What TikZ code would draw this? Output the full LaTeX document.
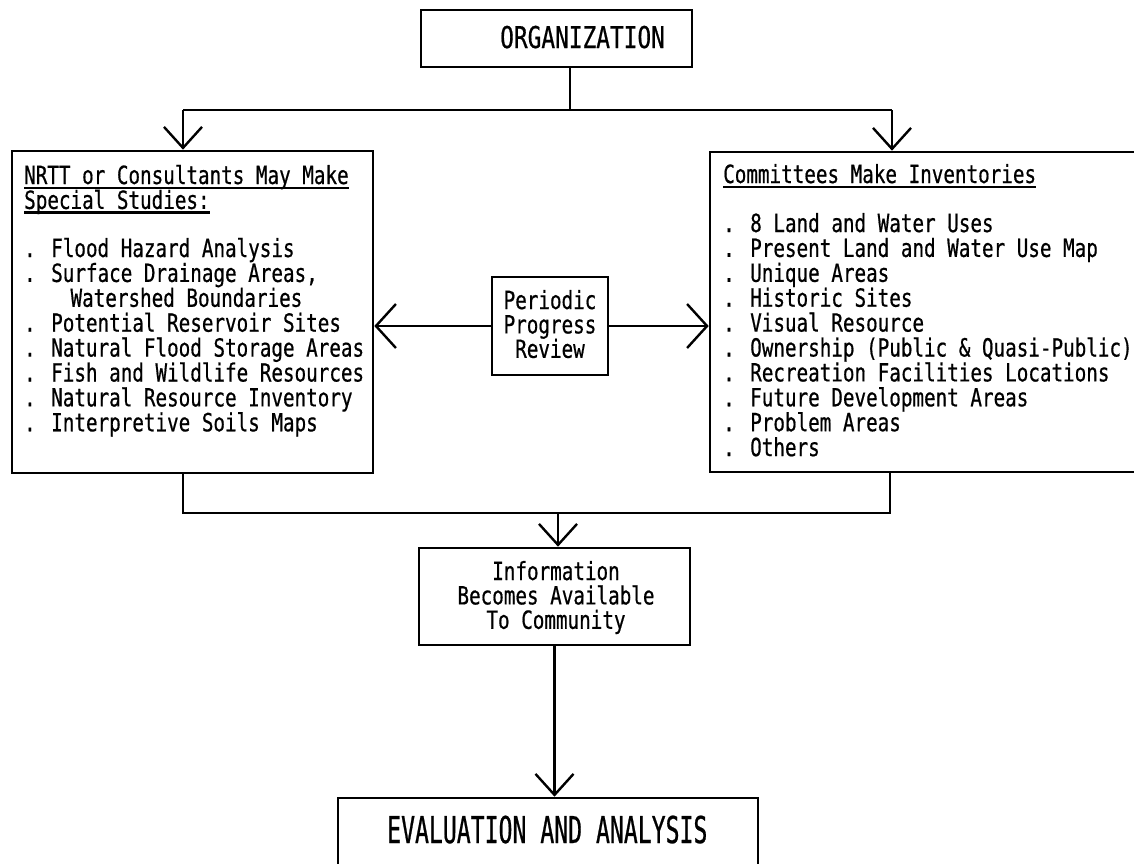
\documentclass[tikz,border=0pt]{standalone}
\usepackage{fontspec}
\usetikzlibrary{arrows.meta}

% condensed typewriter faces
\newfontfamily\typew[FakeStretch=0.77,FakeBold=0.6]{DejaVu Sans Mono}
\newfontfamily\typeorg[FakeStretch=0.76,FakeBold=0.6]{DejaVu Sans Mono}
\newfontfamily\typeeval[FakeStretch=0.625,FakeBold=0.6]{DejaVu Sans Mono}

% underline that runs just below the baseline
\newcommand\ulinetext[1]{\setbox0=\hbox{#1}\rlap{\vrule height -2.5pt depth 4.6pt width \wd0}\box0}
% stacked lines whose reference point is the first baseline
\newcommand\leftstack[1]{\vtop{\baselineskip=24.9pt\lineskiplimit=-20pt\halign{##\hfil\cr#1\crcr}}}
\newcommand\centerstack[1]{\vtop{\baselineskip=24.4pt\lineskiplimit=-20pt\halign{\hfil##\hfil\cr#1\crcr}}}

\tikzset{
  box/.style={draw, line width=2.6pt, inner sep=0pt, rectangle},
  txt/.style={inner sep=0pt, font=\typew\fontsize{25}{25}\selectfont},
  conn/.style={line width=2.2pt},
  arr/.style={line width=2.2pt, -{Straight Barb[length=21pt, width=38pt, line width=2.4pt]}},
  harr/.style={line width=2.2pt, -{Straight Barb[length=20pt, width=44pt, line width=2.4pt]}},
}

\begin{document}
\begin{tikzpicture}[x=1pt, y=-1pt]
\useasboundingbox (0,0) rectangle (1134,863);
\clip (0,0) rectangle (1134,863);
\fill[white] (0,0) rectangle (1134,863);

% boxes
\node[box, minimum width=271pt, minimum height=57pt] (org) at (556.5,38.5) {};
\node[box, minimum width=361pt, minimum height=322pt] (lbox) at (192.5,312) {};
\node[box, minimum width=440pt, minimum height=320pt] (rbox) at (930,312) {};
\node[box, minimum width=116pt, minimum height=98pt] (prb) at (550,326) {};
\node[box, minimum width=271pt, minimum height=97pt] (info) at (554.5,596.5) {};
\node[box, minimum width=420pt, minimum height=102pt] (eval) at (548,849) {};

% texts
\node[inner sep=0pt, anchor=base west, font=\typeorg\fontsize{30}{30}\selectfont] (orgtxt) at (500,48) {ORGANIZATION};

\node[txt, anchor=base west] (ltitle) at (24,184) {\leftstack{%
\ulinetext{NRTT or Consultants May Make}\cr
\ulinetext{Special Studies:}}};

\node[txt, anchor=base west] (llist) at (24,257) {\leftstack{%
. Flood Hazard Analysis\cr
. Surface Drainage Areas,\cr
\phantom{....}Watershed Boundaries\cr
. Potential Reservoir Sites\cr
. Natural Flood Storage Areas\cr
. Fish and Wildlife Resources\cr
. Natural Resource Inventory\cr
. Interpretive Soils Maps}};

\node[txt, anchor=base west] (rtitle) at (723,183) {\ulinetext{Committees Make Inventories}};

\node[txt, anchor=base west] (rlist) at (723,232) {\leftstack{%
. 8 Land and Water Uses\cr
. Present Land and Water Use Map\cr
. Unique Areas\cr
. Historic Sites\cr
. Visual Resource\cr
. Ownership (Public \& Quasi-Public)\cr
. Recreation Facilities Locations\cr
. Future Development Areas\cr
. Problem Areas\cr
. Others}};

\node[txt, anchor=base] (prtxt) at (550,309) {\centerstack{Periodic\cr Progress\cr Review}};

\node[txt, anchor=base] (infotxt) at (556,580) {\centerstack{Information\cr Becomes Available\cr To Community}};

\node[inner sep=0pt, anchor=base west, font=\typeeval\fontsize{37}{37}\selectfont] (evaltxt) at (387,843) {EVALUATION AND ANALYSIS};

% connectors
\coordinate (jt) at (570,110);
\coordinate (tl) at (183,110);
\coordinate (tr) at (892,110);
\draw[conn] (org.south -| jt) -- (jt);
\draw[conn] (tl) -- (tr);
\draw[arr] (tl) -- (tl |- lbox.north);
\draw[arr] (tr) -- (tr |- rbox.north);

\draw[harr] (prb.west) -- (prb.west -| lbox.east);
\draw[harr] (prb.east) -- (prb.east -| rbox.west);

\coordinate (bl) at (183,513);
\coordinate (br) at (890,513);
\coordinate (bm) at (558,513);
\draw[conn] (bl |- lbox.south) -- (bl) -- (br) -- (br |- rbox.south);
\draw[arr] (bm) -- (bm |- info.north);
\draw[arr] (info.south) -- (info.south |- eval.north);
\end{tikzpicture}
\end{document}
